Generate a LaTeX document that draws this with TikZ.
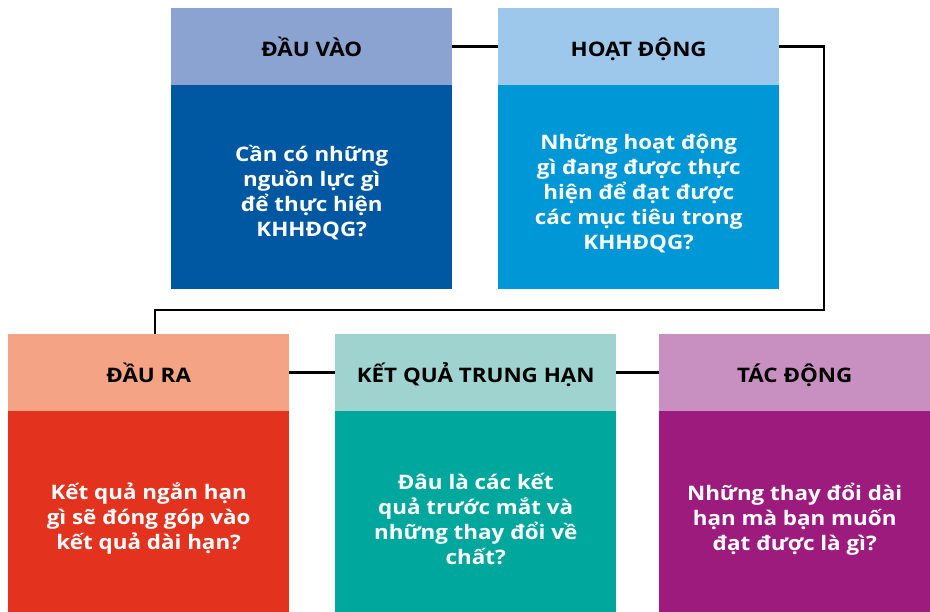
\documentclass[tikz,border=0pt]{standalone}
\usepackage{fontspec}
\setmainfont{Open Sans}[FakeStretch=1.12]
\definecolor{h1}{HTML}{8BA3D1}\definecolor{b1}{HTML}{0057A2}
\definecolor{h2}{HTML}{9DC8EC}\definecolor{b2}{HTML}{0097D7}
\definecolor{h3}{HTML}{F4A384}\definecolor{b3}{HTML}{E3331F}
\definecolor{h4}{HTML}{9FD3CF}\definecolor{b4}{HTML}{00A79D}
\definecolor{h5}{HTML}{C790C0}\definecolor{b5}{HTML}{9E1B7E}
\tikzset{
  headbox/.style={rectangle, inner sep=0pt, anchor=north west, minimum width=281pt, minimum height=77pt},
  headtext/.style={inner sep=0pt, anchor=base, font=\bfseries\fontsize{20}{24}\selectfont, text=black},
  bodybox/.style={rectangle, inner sep=0pt, anchor=north west, minimum width=281pt},
  bodytext/.style={inner sep=0pt, align=center, font=\bfseries\fontsize{20}{25}\selectfont, text=white},
  link/.style={line width=2.5pt, black}
}
\begin{document}
\begin{tikzpicture}[x=1pt,y=-1pt]
\useasboundingbox (0,0) rectangle (930,612);
% top row
\node[headbox, fill=h1] (h1) at (171,8) {};
\node[bodybox, fill=b1, minimum height=204pt] (b1) at (171,85) {};
\node[headbox, fill=h2] (h2) at (498,8) {};
\node[bodybox, fill=b2, minimum height=204pt] (b2) at (498,85) {};
% bottom row
\node[headbox, fill=h3] (h3) at (8,334) {};
\node[bodybox, fill=b3, minimum height=201pt] (b3) at (8,411) {};
\node[headbox, fill=h4] (h4) at (335,334) {};
\node[bodybox, fill=b4, minimum height=201pt] (b4) at (335,411) {};
\node[headbox, fill=h5, minimum width=271pt] (h5) at (659,334) {};
\node[bodybox, fill=b5, minimum width=271pt, minimum height=201pt] (b5) at (659,411) {};
% texts
\node[headtext] (ht1) at ([yshift=-49pt]h1.north) {ĐẦU VÀO};
\node[headtext] (ht2) at ([yshift=-49pt]h2.north) {HOẠT ĐỘNG};
\node[headtext] (ht3) at ([yshift=-49pt]h3.north) {ĐẦU RA};
\node[headtext] (ht4) at ([yshift=-49pt]h4.north) {KẾT QUẢ TRUNG HẠN};
\node[headtext] (ht5) at ([yshift=-49pt]h5.north) {TÁC ĐỘNG};
\node[bodytext] (bt1) at ([yshift=-5pt]b1.center) {Cần có những\\nguồn lực gì\\để thực hiện\\KHHĐQG?};
\node[bodytext] (bt2) at ([yshift=-6pt]b2.center) {Những hoạt động\\gì đang được thực\\hiện để đạt được\\các mục tiêu trong\\KHHĐQG?};
\node[bodytext] (bt3) at ([yshift=-7pt]b3.center) {Kết quả ngắn hạn\\gì sẽ đóng góp vào\\kết quả dài hạn?};
\node[bodytext] (bt4) at ([yshift=-7pt]b4.center) {Đâu là các kết\\quả trước mắt và\\những thay đổi về\\chất?};
\node[bodytext] (bt5) at ([yshift=-7pt]b5.center) {Những thay đổi dài\\hạn mà bạn muốn\\đạt được là gì?};
% connectors
\coordinate (turn) at (824,310);
\draw[link] (h1.east) -- (h2.west);
\draw[link, line join=miter] (h2.east) -| (turn) -| ([xshift=6.5pt]h3.north);
\draw[link] (h3.east) -- (h4.west);
\draw[link] (h4.east) -- (h5.west);
\end{tikzpicture}
\end{document}
